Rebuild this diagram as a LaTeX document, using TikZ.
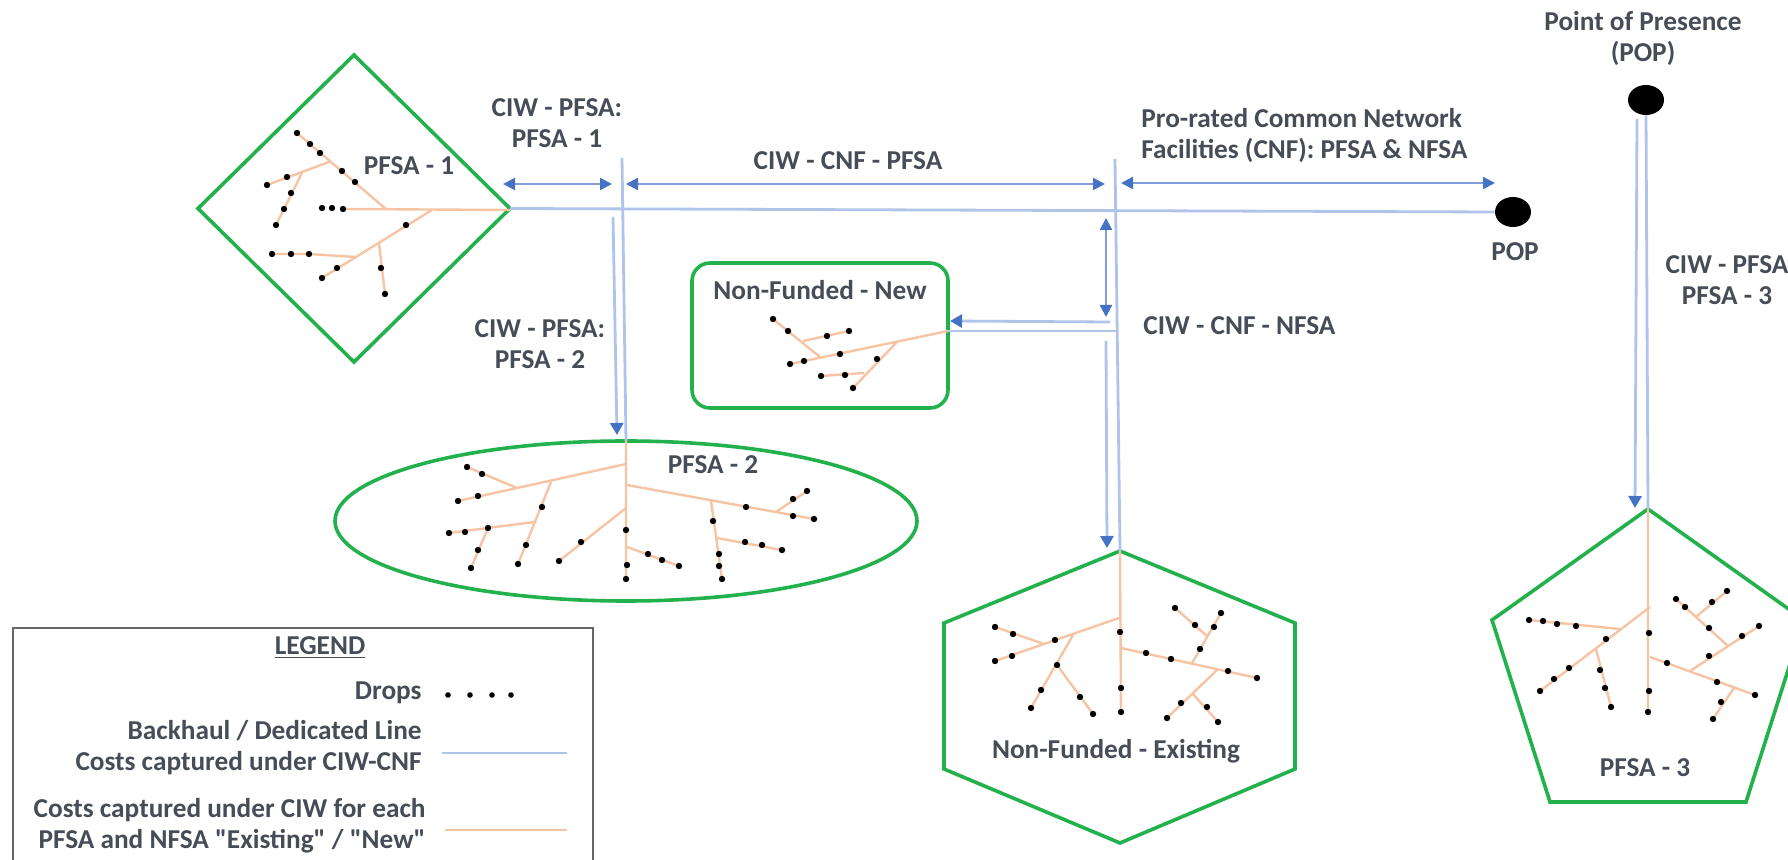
\documentclass[tikz,border=0pt]{standalone}
\usepackage{fontspec}
\setmainfont{Carlito}[Ligatures=TeXOff]
\usetikzlibrary{arrows.meta,shapes.geometric}
\definecolor{areagreen}{HTML}{22B14C}
\definecolor{linkblue}{HTML}{B0C3E8}
\definecolor{arrowblue}{HTML}{7F9FDC}
\definecolor{headblue}{HTML}{4472C4}
\definecolor{treeorange}{HTML}{F6C4A3}
\definecolor{labelgray}{HTML}{474D57}
\begin{document}
\begin{tikzpicture}[
          x=0.5pt, y=-0.5pt,
          area/.style = {draw=areagreen, line width=1.8pt, line join=miter, inner sep=0pt, outer sep=0pt},
          link/.style = {draw=linkblue, line width=1.4pt},
          extent/.style = {draw=arrowblue, line width=1.1pt, {Triangle[length=6pt,width=6pt,color=headblue]}-{Triangle[length=6pt,width=6pt,color=headblue]}},
          feed/.style = {draw=linkblue, line width=1.4pt, -{Triangle[length=6pt,width=6.5pt,color=headblue]}},
          tree/.style = {draw=treeorange, line width=1.2pt},
          lbl/.style = {text=labelgray, font=\bfseries\fontsize{13.65}{15.5}\selectfont, align=center, inner sep=0pt},
          pop/.style = {fill=black, ellipse, inner sep=0pt, minimum width=18pt, minimum height=15pt}
        ]
          \clip (0,0) rectangle (1788,860);

          \node[area, diamond, aspect=1, minimum width=156pt, minimum height=153.5pt] (pfsa1) at (354,208.5) {};
          \node[area, ellipse, minimum width=291pt, minimum height=80pt] (pfsa2) at (626,521) {};
          \node[area, rectangle, rounded corners=9pt, minimum width=128pt, minimum height=72.5pt] (nfnew) at (820,335.5) {};
          \coordinate (hextop) at (1120,551);
          \coordinate (penttop) at (1648,509);
          \draw[area] (hextop) -- (1295,623) -- (1295,769) -- (1120,843) -- (944,769) -- (944,623) -- cycle;
          \draw[area] (penttop) -- (1804,620) -- (1746,802) -- (1550,802) -- (1492,620) -- cycle;

          \node[pop] (pop1) at (1513,212) {};
          \node[pop] (pop2) at (1646,100) {};

          \coordinate (up1) at (622,158);
          \coordinate (up2) at (1115,159);
          \coordinate (end2) at (626,441);
          \coordinate (nfjoin) at (1116,331);

          \draw[link] (pfsa1.east) -- (pop1.west);
          \draw[link] (up1) -- (end2);
          \draw[link] (up2) -- (hextop);
          \draw[link] (nfnew.east |- nfjoin) -- (nfjoin);
          \draw[link] (pop2.south) -- (penttop);

          \coordinate (a1) at (503,184);
          \coordinate (a2) at (612,184);
          \coordinate (a3) at (626,184);
          \coordinate (a4) at (1105,184);
          \coordinate (a5) at (1121,183);
          \coordinate (a6) at (1495,183);
          \coordinate (a7) at (1106,218);
          \coordinate (a8) at (1106,317);
          \coordinate (f1) at (613,217);
          \coordinate (f2) at (617,435);
          \coordinate (f3) at (1110,322);
          \coordinate (f4) at (950,321);
          \coordinate (f5) at (1106,341);
          \coordinate (f6) at (1107,548);
          \coordinate (f7) at (1637,119);
          \coordinate (f8) at (1635,508);

          \draw[extent] (a1) -- (a2);
          \draw[extent] (a3) -- (a4);
          \draw[extent] (a5) -- (a6);
          \draw[extent] (a7) -- (a8);
          \draw[feed] (f1) -- (f2);
          \draw[feed] (f3) -- (f4);
          \draw[feed] (f5) -- (f6);
          \draw[feed] (f7) -- (f8);

          \draw[tree] (510,210) -- (343,209)
            (387,210) -- (297,133)
            (329,162) -- (267,185)
            (302,173) -- (276,225)
            (432,210) -- (322,278)
            (356,257) -- (309,254) -- (272,254)
            (379,243) -- (385,294);
          \foreach \p in {(343,209),(332,208),(322,208),(355,182),(342,171),(320,153),(310,144),(297,133),
            (287,177),(267,185),(291,193),(284,209),(276,225),(406,225),(337,268),(322,278),
            (309,254),(291,254),(272,254),(381,268),(385,294)}
            \fill \p circle (1.6pt);

          \draw[tree] (626,441) -- (626,579)
            (626,464) -- (458,501)
            (517,488) -- (467,467)
            (551,482) -- (518,564)
            (534,522) -- (449,533)
            (488,528) -- (471,568)
            (626,508) -- (559,561)
            (627,547) -- (679,566)
            (627,485) -- (814,519)
            (776,512) -- (807,491)
            (711,501) -- (722,579)
            (717,538) -- (782,550);
          \foreach \p in {(626,530),(627,565),(626,579),(478,496),(458,501),(482,474),(467,467),
            (542,507),(526,545),(518,564),(488,528),(465,532),(449,533),(478,550),(471,568),
            (581,542),(559,561),(648,554),(662,560),(679,566),(746,507),(793,516),(814,519),
            (793,499),(807,491),(713,521),(719,554),(719,566),(722,579),(745,542),(762,545),(782,550)}
            \fill \p circle (1.6pt);

          \draw[tree] (948,331) -- (790,364)
            (820,357) -- (773,319)
            (803,341) -- (849,331)
            (897,342) -- (853,388)
            (864,373) -- (821,376);
          \foreach \p in {(840,354),(804,361),(790,364),(788,331),(773,319),(827,336),(849,331),
            (877,359),(853,388),(845,375),(821,376)}
            \fill \p circle (1.6pt);

          \draw[tree] (1120,551) -- (1121,712)
            (1119,618) -- (995,661)
            (1044,644) -- (995,627)
            (1073,635) -- (1031,708)
            (1057,665) -- (1093,714)
            (1121,648) -- (1257,678)
            (1192,663) -- (1221,613)
            (1207,636) -- (1175,608)
            (1217,670) -- (1167,718)
            (1193,694) -- (1218,722);
          \foreach \p in {(1120,632),(1121,688),(1121,712),(1055,640),(1012,656),(995,661),(1013,634),(995,627),
            (1057,665),(1041,690),(1031,708),(1080,697),(1093,714),(1146,653),(1171,659),(1228,671),(1257,678),
            (1200,649),(1214,627),(1221,613),(1195,625),(1175,608),(1181,703),(1167,718),(1207,707),(1218,722)}
            \fill \p circle (1.6pt);

          \draw[tree] (1648,509) -- (1648,712)
            (1650,607) -- (1540,691)
            (1620,629) -- (1529,620)
            (1596,649) -- (1611,707)
            (1650,657) -- (1755,695)
            (1734,688) -- (1713,719)
            (1690,671) -- (1759,626)
            (1727,645) -- (1676,599)
            (1697,616) -- (1727,591);
          \foreach \p in {(1649,633),(1649,691),(1648,712),(1606,639),(1569,668),(1554,679),(1540,691),
            (1576,626),(1557,624),(1543,621),(1529,620),(1600,670),(1605,688),(1611,707),
            (1667,663),(1717,682),(1755,695),(1721,702),(1713,719),(1709,656),(1742,636),(1759,626),
            (1709,628),(1685,607),(1676,599),(1712,602),(1727,591)}
            \fill \p circle (1.6pt);

          \node[lbl] (lblpfsa1) at (409,166) {PFSA - 1};
          \node[lbl] (lblpfsa2) at (713,465) {PFSA - 2};
          \node[lbl] (lblpfsa3) at (1645,768) {PFSA - 3};
          \node[lbl] (lblnew) at (820,290) {Non-Funded - New};
          \node[lbl] (lblexist) at (1116,751) {Non-Funded - Existing};
          \node[lbl] (lblciw1) at (557,123) {CIW - PFSA:\\PFSA - 1};
          \node[lbl] (lblciw2) at (540,344) {CIW - PFSA:\\PFSA - 2};
          \node[lbl] (lblciw3) at (1727,280) {CIW - PFSA\\PFSA - 3};
          \node[lbl] (lblcnf) at (848,161) {CIW - CNF - PFSA};
          \node[lbl, anchor=west] (lblnfsa) at (1143,326) {CIW - CNF - NFSA};
          \node[lbl, anchor=west, align=left] (lblrated) at (1141,135) {Pro-rated Common Network\\Facilities (CNF): PFSA \& NFSA};
          \node[lbl] (lblpop) at (1515,252) {POP};
          \node[lbl] (lblpres) at (1643,38) {Point of Presence\\(POP)};

          \draw[draw=black!60, line width=1pt] (13,628) rectangle (593,880);
          \node[lbl] (legend) at (320,648) {\underline{LEGEND}};
          \node[lbl, anchor=east] (lgdrops) at (422,693) {Drops};
          \node[lbl, anchor=east, align=right] (lgback) at (422,748) {Backhaul / Dedicated Line\\Costs captured under CIW-CNF};
          \node[lbl, anchor=east, align=right] (lgciw) at (426,825.5) {Costs captured under CIW for each\\PFSA and NFSA "Existing" / "New"};
          \foreach \x in {448,470,492,511}
            \fill (\x,695) circle (1.4pt);
          \coordinate (lb1) at (442,753);
          \coordinate (lb2) at (567,753);
          \coordinate (lo1) at (445,830);
          \coordinate (lo2) at (567,830);
          \draw[link] (lb1) -- (lb2);
          \draw[tree] (lo1) -- (lo2);
        \end{tikzpicture}
\end{document}
